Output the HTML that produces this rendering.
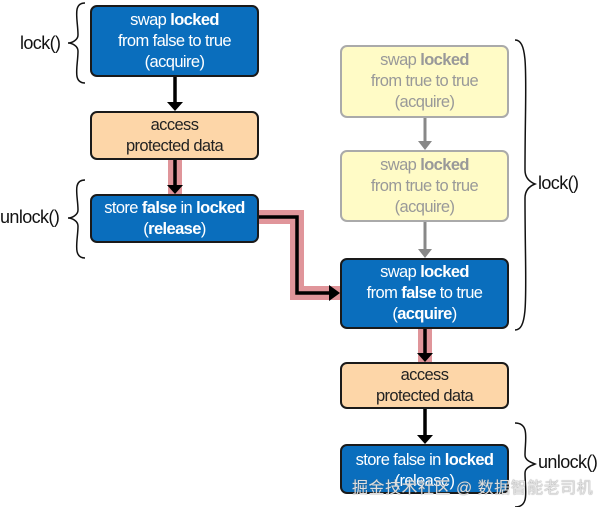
<!DOCTYPE html>
<html><head><style>
body{margin:0;background:#fff;width:600px;height:507px;position:relative;overflow:hidden;font-family:"Liberation Sans","Noto Sans CJK SC",sans-serif;}
.b{position:absolute;box-sizing:border-box;border:2px solid #1a1a1a;border-radius:7px;display:flex;align-items:center;justify-content:center;text-align:center;font-size:16.5px;line-height:21px;letter-spacing:-0.6px;}
.blue{background:#0a6ebd;color:#fff;}
.or{background:#fdd6a8;color:#222;}
.ye{background:#fffbc6;color:#999;border-color:#aaa;}
.l{position:absolute;font-size:18px;color:#111;letter-spacing:-0.6px}
</style></head><body>
<svg width="600" height="507" style="position:absolute;left:0;top:0">
<g fill="none" stroke-linejoin="miter">
<path d="M175 160 V194 M259 217 H297 V293 H340" stroke="#e0959a" stroke-width="14"/>
<path d="M425 329 V362" stroke="#e0959a" stroke-width="14"/>
<path d="M175 77 V103 M175 160 V186 M259 217 H297 V293 H330 M425 329 V354 M425 409 V436" stroke="#000" stroke-width="3.5"/>
<path d="M425 118 V142 M425 222 V250" stroke="#888" stroke-width="3"/>
<path d="M85 3 C72 3 78 20 78 35 C78 40 72 43 68 43 C72 43 78 46 78 51 C78 66 72 83 85 83" stroke="#111" stroke-width="1.5"/>
<path d="M85 180 C72 180 78 196 78 210 C78 215 72 218 68 218 C72 218 78 221 78 226 C78 240 72 258 85 258" stroke="#111" stroke-width="1.5"/>
<path d="M515 40 C530 40 525 80 525 170 C525 178 530 182 535 184 C530 186 525 190 525 198 C525 290 530 330 515 330" stroke="#111" stroke-width="1.5"/>
<path d="M515 423 C530 423 525 440 525 455 C525 460 530 462 535 464 C530 466 525 468 525 473 C525 490 530 507 515 507" stroke="#111" stroke-width="1.5"/>
</g>
<g fill="#000"><path d="M167 102 L183 102 L175 111Z M167 185 L183 185 L175 194Z M329 285 L329 301 L340 293Z M417 353 L433 353 L425 362Z M417 435 L433 435 L425 444Z"/></g>
<g fill="#888"><path d="M418 141 L432 141 L425 150Z M418 249 L432 249 L425 258Z"/></g>
</svg>
<div class="b blue" style="left:90px;top:5px;width:169px;height:72px"><span>swap <b>locked</b><br>from false to true<br>(acquire)</span></div>
<div class="b or" style="left:90px;top:111px;width:169px;height:49px"><span>access<br>protected data</span></div>
<div class="b blue" style="left:90px;top:194px;width:169px;height:49px"><span>store <b>false</b> in <b>locked</b><br>(<b>release</b>)</span></div>
<div class="b ye" style="left:340px;top:45px;width:169px;height:73px"><span>swap <b>locked</b><br>from true to true<br>(acquire)</span></div>
<div class="b ye" style="left:340px;top:150px;width:169px;height:72px"><span>swap <b>locked</b><br>from true to true<br>(acquire)</span></div>
<div class="b blue" style="left:340px;top:258px;width:169px;height:71px"><span>swap <b>locked</b><br>from <b>false</b> to true<br>(<b>acquire</b>)</span></div>
<div class="b or" style="left:340px;top:362px;width:169px;height:47px"><span>access<br>protected data</span></div>
<div class="b blue" style="left:340px;top:444px;width:169px;height:50px;align-items:flex-start;padding-top:4px"><span>store false in <b>locked</b><br>(release)</span></div>
<div class="l" style="left:20px;top:33px">lock()</div>
<div class="l" style="left:0px;top:207px">unlock()</div>
<div class="l" style="left:538px;top:173px">lock()</div>
<div class="l" style="left:538px;top:452px">unlock()</div>
<div style="position:absolute;left:352px;top:474px;font-size:16px;color:rgba(235,235,235,0.9);text-shadow:0 0 1px #666;letter-spacing:0.5px">掘金技术社区 @ 数据智能老司机</div>
</body></html>
